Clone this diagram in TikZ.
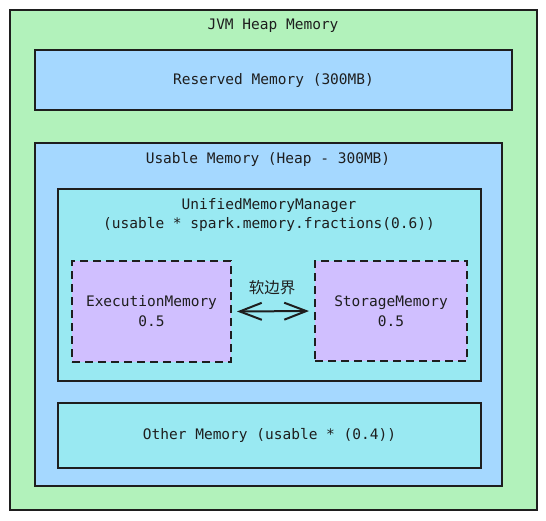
\documentclass[tikz,border=0pt]{standalone}
\usepackage{fontspec}
\setmonofont{DejaVu Sans Mono}
\newfontfamily\cjk{Noto Sans CJK SC}
\usetikzlibrary{arrows.meta}
\definecolor{ink}{HTML}{1E1E1E}
\definecolor{cgreen}{HTML}{B2F2BB}
\definecolor{cblue}{HTML}{A5D8FF}
\definecolor{ccyan}{HTML}{99E9F2}
\definecolor{cpurple}{HTML}{D0BFFF}
\tikzset{
  box/.style={draw=ink, line width=2pt, inner sep=0pt, outer sep=0pt, font=\ttfamily\fontsize{14.5}{16}\selectfont, text=ink, align=center},
  dbox/.style={box, line width=2.4pt, dash pattern=on 8pt off 5pt},
  lbl/.style={font=\ttfamily\fontsize{14.5}{19}\selectfont, text=ink, align=center, inner sep=0pt}
}
\begin{document}
\begin{tikzpicture}[x=1pt,y=-1pt]
\useasboundingbox (0,0) rectangle (546,520);
\node[box, fill=cgreen, line width=2.6pt, minimum width=527, minimum height=500] (jvm) at (273.5,260) {};
\node[lbl] (jvmt) at (273,25.5) {JVM Heap Memory};
\node[box, fill=cblue, minimum width=477, minimum height=60] (res) at (273.5,80) {Reserved Memory (300MB)};
\node[box, fill=cblue, minimum width=467, minimum height=343] (usable) at (268.5,314.5) {};
\node[lbl] (usablet) at (268,159.5) {Usable Memory (Heap - 300MB)};
\node[box, fill=ccyan, minimum width=423, minimum height=192] (uni) at (269.5,284.5) {};
\node[lbl] (unit) at (269,215) {UnifiedMemoryManager\\(usable * spark.memory.fractions(0.6))};
\node[dbox, fill=cpurple, minimum width=159, minimum height=101, font=\ttfamily\fontsize{14.5}{20}\selectfont] (exec) at (151.5,311.5) {ExecutionMemory\\0.5};
\node[dbox, fill=cpurple, minimum width=152, minimum height=100, font=\ttfamily\fontsize{14.5}{20}\selectfont] (stor) at (391,311) {StorageMemory\\0.5};
\node[box, fill=ccyan, minimum width=423, minimum height=65] (other) at (269.5,435.5) {Other Memory (usable * (0.4))};
\draw[draw=ink, line width=2pt, shorten <=6pt, shorten >=6pt, {Straight Barb[length=22pt,width=17pt,line width=2pt]}-{Straight Barb[length=22pt,width=17pt,line width=2pt]}] (exec.east) -- (stor.west);
\node[lbl, font=\cjk\fontsize{15.5}{18}\selectfont] (soft) at (272,288) {软边界};
\end{tikzpicture}
\end{document}
